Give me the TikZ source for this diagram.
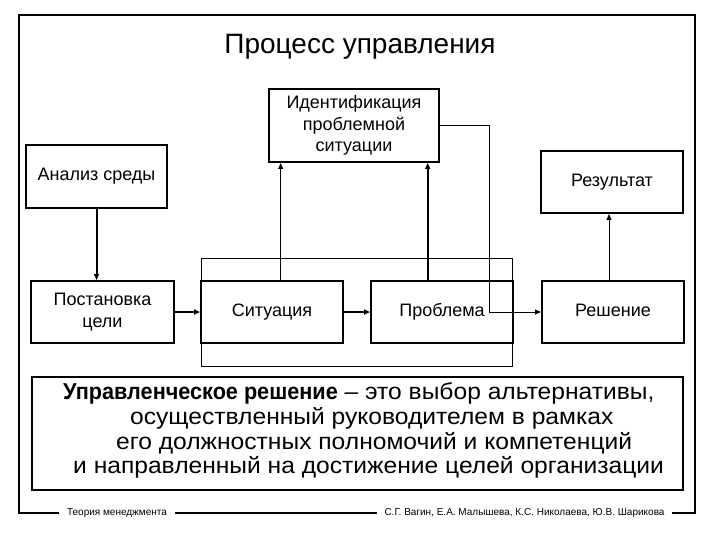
\documentclass[tikz,border=0pt]{standalone}
\usepackage{fontspec}
\setmainfont{Liberation Sans}
\newfontfamily\widefont{Liberation Sans}[FakeStretch=1.07]
\usepackage{graphicx}
\usetikzlibrary{arrows.meta,calc,positioning}
\tikzstyle{box}   =[draw, line width=2pt, inner sep=2pt, align=center,
                    font=\fontsize{18}{21.5}\selectfont]
\tikzstyle{onebox}=[box, text height=13pt, text depth=4pt]
\tikzstyle{edge}  =[line width=2pt,
                    -{Triangle[length=6pt,width=5pt]}]
\tikzstyle{thinedge}=[line width=1pt,
                    -{Triangle[length=6pt,width=5pt]}]
\tikzstyle{frame} =[line width=2.5pt]
\tikzstyle{deftext}=[anchor=base west, inner sep=0pt,
                    font=\widefont\fontsize{23}{24}\selectfont]

\begin{document}
\begin{tikzpicture}[x=1pt, y=-1pt]
    \useasboundingbox (0,0) rectangle (720,540);

    % title
    \node[anchor=base, font=\fontsize{28}{30}\selectfont] (title) at (360,54) {Процесс управления};

    % boxes
    \node[box, minimum width=170pt, minimum height=73pt] (ident) at (354,125.5)
        {Идентификация\\проблемной\\ситуации};
    \node[onebox, minimum width=141pt, minimum height=63pt] (anal) at (96.5,176.5) {Анализ среды};
    \node[onebox, minimum width=142pt, minimum height=62pt] (res) at (612,182) {Результат};

    \node[box, minimum width=143pt, minimum height=62pt] (goal) at (102.5,312) {Постановка\\цели};
    \node[onebox, minimum width=142pt, minimum height=62pt] (sit) at (272,312) {Ситуация};
    \node[onebox, minimum width=142pt, minimum height=62pt] (probl) at (442,312) {Проблема};
    \node[onebox, minimum width=142pt, minimum height=62pt] (sol) at (613,312) {Решение};

    \node[draw, line width=1pt, minimum width=311pt, minimum height=108pt] (grp) at (357.3,312) {};

    % connectors
    \draw[edge] (anal.south) -- (anal.south |- goal.north);
    \draw[edge] (goal) -- (sit);
    \draw[edge] (sit) -- (probl);
    \draw[thinedge] ([xshift=8.7pt]sit.north) -- ([xshift=8.7pt]sit.north |- ident.south);
    \draw[edge] ([xshift=-14.3pt]probl.north) -- ([xshift=-14.3pt]probl.north |- ident.south);
    \coordinate (turn) at (489,125.5);
    \draw[thinedge] (ident.east) -- (turn) |- (sol.west);
    \draw[thinedge] ([xshift=-4pt]sol.north) -- ([xshift=-4pt]sol.north |- res.south);

    % definition
    \node[draw, line width=2pt, minimum width=651pt, minimum height=113pt] (defn) at (357.3,433.5) {};
    \node[deftext] (l1) at (63,399) {\scalebox{0.88}[1]{\bfseries Управленческое решение} – это выбор альтернативы,};
    \node[deftext] (l2) at (130,424) {осуществленный руководителем в рамках};
    \node[deftext] (l3) at (116,449) {его должностных полномочий и компетенций};
    \node[deftext] (l4) at (73,473) {и направленный на достижение целей организации};

    % outer frame with footer
    \node[font=\fontsize{10}{12}\selectfont, inner sep=0pt] (ftl) at (117,513) {Теория менеджмента};
    \node[font=\fontsize{10}{12}\selectfont, inner sep=0pt] (ftr) at (524.5,513) {С.Г. Вагин, Е.А. Малышева, К.С. Николаева, Ю.В. Шарикова};
    \coordinate (fbl) at (19,513);
    \coordinate (ftrc) at (695,15);
    \draw[frame] ([xshift=-8pt]ftl.west) -- (fbl) |- (ftrc) |- ([xshift=7pt]ftr.east);
    \draw[frame] ([xshift=8pt]ftl.east) -- ([xshift=-7pt]ftr.west);
\end{tikzpicture}
\end{document}
